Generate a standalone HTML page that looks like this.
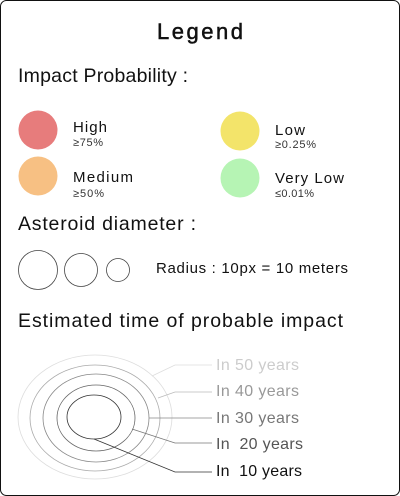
<!DOCTYPE html>
<html><head><meta charset="utf-8"><style>
body{margin:0;background:#fff;}
svg{display:block;font-family:"Liberation Sans",sans-serif;}
</style></head><body>
<svg width="400" height="496" viewBox="0 0 400 496">
<rect x="0.5" y="0.5" width="399" height="495" rx="6" fill="#fff" stroke="#111"/>
<text x="200" y="39" text-anchor="middle" font-size="22" fill="#111" stroke="#111" stroke-width="0.5" textLength="86">Legend</text>
<text x="18" y="82" font-size="19.5" fill="#111" textLength="170">Impact Probability :</text>
<circle cx="38" cy="130" r="19.5" fill="#e77c7c"/>
<text x="73" y="132" font-size="15" fill="#111" textLength="34">High</text>
<text x="73" y="146" font-size="11" fill="#333" textLength="30">≥75%</text>
<circle cx="38" cy="176" r="19.5" fill="#f7c083"/>
<text x="73" y="182" font-size="15" fill="#111" textLength="60">Medium</text>
<text x="73" y="197" font-size="11" fill="#333" textLength="31">≥50%</text>
<circle cx="240" cy="131" r="19.5" fill="#f3e46a"/>
<text x="275" y="135" font-size="15" fill="#111" textLength="30">Low</text>
<text x="275" y="148" font-size="11" fill="#333" textLength="41">≥0.25%</text>
<circle cx="240" cy="178" r="19.5" fill="#b6f4b4"/>
<text x="275" y="183" font-size="15" fill="#111" textLength="69">Very Low</text>
<text x="275" y="197" font-size="11" fill="#333" textLength="39">≤0.01%</text>
<text x="18" y="230" font-size="19.5" fill="#111" textLength="178">Asteroid diameter :</text>
<g fill="none" stroke="#444" stroke-width="0.8">
<circle cx="38" cy="270" r="19.5"/>
<circle cx="81" cy="270" r="16.5"/>
<circle cx="118" cy="270" r="11.5"/>
</g>
<text x="156" y="273" font-size="15" fill="#111" textLength="192">Radius : 10px = 10 meters</text>
<text x="18" y="327" font-size="19.5" fill="#111" textLength="325">Estimated time of probable impact</text>
<g fill="none" stroke-width="0.8">
<ellipse cx="95" cy="417" rx="77" ry="62" stroke="#ddd"/>
<ellipse cx="95" cy="418" rx="65" ry="53" stroke="#aaa"/>
<ellipse cx="96" cy="418" rx="53" ry="44" stroke="#888"/>
<ellipse cx="96" cy="418" rx="39" ry="33" stroke="#666"/>
<ellipse cx="94" cy="417" rx="27" ry="22" stroke="#333"/>
<polyline points="152,376 175,365 212,365" stroke="#ddd"/>
<polyline points="158,398 175,392 212,392" stroke="#bbb"/>
<polyline points="149,418 212,418" stroke="#888"/>
<polyline points="132,429 175,443 212,443" stroke="#777"/>
<polyline points="94,439 175,472 212,472" stroke="#333"/>
</g>
<g font-size="16">
<text x="216" y="370" fill="#ccc" textLength="83">In 50 years</text>
<text x="216" y="396" fill="#999" textLength="83">In 40 years</text>
<text x="216" y="423" fill="#777" textLength="83">In 30 years</text>
<text x="216" y="449" fill="#555" textLength="87" xml:space="preserve">In  20 years</text>
<text x="216" y="476" fill="#111" textLength="86" xml:space="preserve">In  10 years</text>
</g>
</svg>
</body></html>
